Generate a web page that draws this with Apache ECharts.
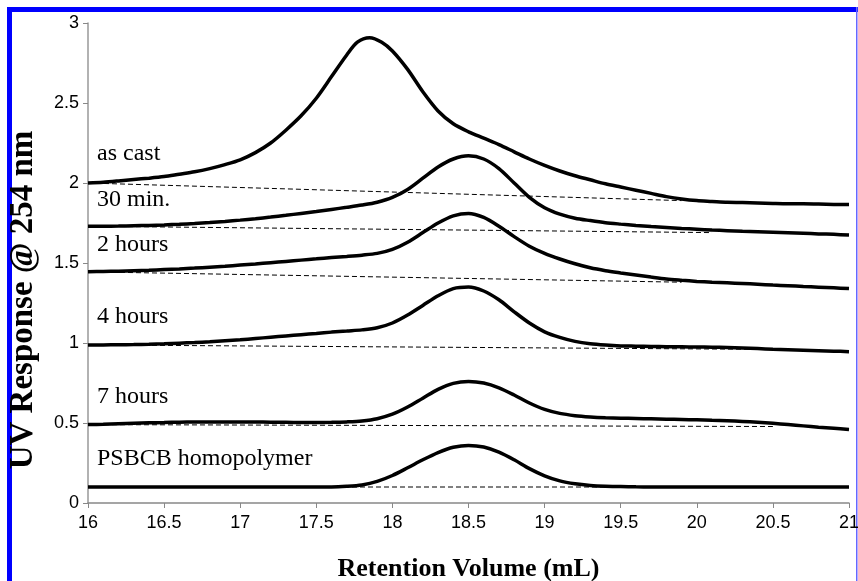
<!DOCTYPE html>
<html>
<head>
    <meta charset="UTF-8">
    <title>UV Response</title>
    <script src="https://cdn.jsdelivr.net/npm/echarts@6/dist/echarts.min.js"></script>
    <style>
        body { margin: 0; background: #fff; }
        #main { width: 858px; height: 581px; }
    </style>
</head>
<body>
<div id="main"></div>
<script type="text/javascript">
    // retention volume (mL), shared by the later curves
    var xs = [16.0, 16.1, 16.2, 16.3, 16.4, 16.5, 16.6, 16.7, 16.8, 16.9,
              17.0, 17.1, 17.2, 17.3, 17.4, 17.5, 17.6, 17.7, 17.8, 17.9,
              18.0, 18.1, 18.2, 18.3, 18.4, 18.5, 18.6, 18.7, 18.8, 18.9,
              19.0, 19.1, 19.2, 19.3, 19.4, 19.5, 19.6, 19.7, 19.8, 19.9,
              20.0, 20.1, 20.2, 20.3, 20.4, 20.5, 20.6, 20.7, 20.8, 20.9, 21.0];

    // as cast peaks between grid points, so it has its own x list
    var asCastX = [16.0, 16.1, 16.2, 16.3, 16.4, 16.5, 16.6, 16.7, 16.8, 16.9,
                   17.0, 17.1, 17.2, 17.3, 17.4, 17.5, 17.6, 17.7, 17.77, 17.85, 17.93,
                   18.0, 18.1, 18.2, 18.3, 18.4, 18.5, 18.6, 18.7, 18.8, 18.9,
                   19.0, 19.1, 19.2, 19.3, 19.4, 19.5, 19.6, 19.7, 19.8, 19.9,
                   20.0, 20.1, 20.2, 20.3, 20.4, 20.5, 20.6, 20.7, 20.8, 20.9, 21.0];
    var asCast = [2.00, 2.005, 2.013, 2.022, 2.03, 2.04, 2.055, 2.07, 2.09, 2.115,
                  2.145, 2.19, 2.25, 2.33, 2.42, 2.53, 2.665, 2.80, 2.88, 2.908, 2.88,
                  2.825, 2.71, 2.57, 2.45, 2.37, 2.32, 2.28, 2.24, 2.195, 2.15,
                  2.11, 2.075, 2.045, 2.02, 1.995, 1.975, 1.955, 1.935, 1.915, 1.90,
                  1.89, 1.885, 1.88, 1.878, 1.875, 1.872, 1.87, 1.87, 1.868, 1.866, 1.865];
    var min30 = [1.73, 1.73, 1.731, 1.733, 1.735, 1.738, 1.742, 1.747, 1.753, 1.76,
                 1.768, 1.777, 1.787, 1.798, 1.81, 1.822, 1.835, 1.848, 1.862, 1.88,
                 1.91, 1.96, 2.03, 2.10, 2.15, 2.17, 2.15, 2.09, 2.00, 1.91,
                 1.845, 1.805, 1.78, 1.765, 1.752, 1.743, 1.735, 1.728, 1.722, 1.716,
                 1.711, 1.706, 1.702, 1.698, 1.695, 1.692, 1.689, 1.686, 1.682, 1.679, 1.675];
    var hours2 = [1.445, 1.447, 1.449, 1.452, 1.455, 1.459, 1.463, 1.468, 1.474, 1.48,
                  1.487, 1.494, 1.502, 1.51, 1.518, 1.526, 1.534, 1.541, 1.549, 1.56,
                  1.585, 1.63, 1.69, 1.75, 1.795, 1.81, 1.785, 1.73, 1.665, 1.605,
                  1.56, 1.525, 1.495, 1.47, 1.452, 1.438, 1.425, 1.412, 1.40, 1.392,
                  1.385, 1.38, 1.376, 1.372, 1.367, 1.362, 1.358, 1.353, 1.349, 1.345, 1.34];
    var hours4 = [0.988, 0.988, 0.989, 0.99, 0.992, 0.995, 0.999, 1.003, 1.008, 1.014,
                  1.02, 1.028, 1.036, 1.044, 1.052, 1.06, 1.068, 1.075, 1.082, 1.095,
                  1.125, 1.175, 1.235, 1.295, 1.34, 1.35, 1.325, 1.27, 1.195, 1.125,
                  1.07, 1.035, 1.01, 0.995, 0.987, 0.982, 0.98, 0.978, 0.977, 0.976,
                  0.975, 0.974, 0.972, 0.969, 0.965, 0.961, 0.958, 0.955, 0.952, 0.949, 0.946];
    var hours7 = [0.49, 0.492, 0.495, 0.498, 0.501, 0.503, 0.505, 0.506, 0.507, 0.507,
                  0.507, 0.506, 0.505, 0.504, 0.503, 0.503, 0.504, 0.507, 0.513, 0.527,
                  0.555, 0.60, 0.655, 0.71, 0.748, 0.76, 0.75, 0.72, 0.675, 0.625,
                  0.585, 0.56, 0.546, 0.538, 0.533, 0.53, 0.528, 0.526, 0.524, 0.522,
                  0.52, 0.517, 0.514, 0.51, 0.505, 0.498, 0.49, 0.482, 0.474, 0.467, 0.46];
    var homo = [0.10, 0.10, 0.10, 0.10, 0.10, 0.10, 0.10, 0.10, 0.10, 0.10,
                0.10, 0.10, 0.10, 0.10, 0.10, 0.10, 0.10, 0.104, 0.113, 0.135,
                0.172, 0.22, 0.27, 0.315, 0.348, 0.36, 0.35, 0.318, 0.27, 0.215,
                0.17, 0.138, 0.12, 0.11, 0.105, 0.103, 0.101, 0.10, 0.10, 0.10,
                0.10, 0.10, 0.10, 0.10, 0.10, 0.10, 0.10, 0.10, 0.10, 0.10, 0.10];

    var names = ['as cast', '30 min.', '2 hours', '4 hours', '7 hours', 'PSBCB homopolymer'];
    // dashed baselines: start x, start y, end x, end y
    var baseX0 = [16, 16, 16, 16, 16, 16];
    var baseY0 = [2.0, 1.73, 1.445, 0.988, 0.49, 0.10];
    var baseX1 = [19.9, 20.1, 19.9, 20.5, 20.5, 21];
    var baseY1 = [1.89, 1.69, 1.38, 0.96, 0.478, 0.10];

    var xTicks = ['16', '16.5', '17', '17.5', '18', '18.5', '19', '19.5', '20', '20.5', '21'];

    var curves = [asCast, min30, hours2, hours4, hours7, homo];
    var curveX = [asCastX, xs, xs, xs, xs, xs];
    var labelTop = [157, 203, 248, 320, 400, 462];

    var series = [];
    // 虚线基线
    for (var i = 0; i < curves.length; i++) {
        series.push({
            name: names[i] + ' base',
            type: 'line',
            data: [[baseX0[i], baseY0[i]], [baseX1[i], baseY1[i]]],
            symbol: 'none',
            z: 1,
            lineStyle: { color: '#000', width: 1, type: [5, 3] }
        });
    }
    // 曲线
    for (var i = 0; i < curves.length; i++) {
        var pts = [];
        for (var j = 0; j < curveX[i].length; j++) pts.push([curveX[i][j], curves[i][j]]);
        series.push({
            name: names[i],
            type: 'line',
            data: pts,
            symbol: 'none',
            smooth: 0.3,
            z: 3,
            lineStyle: { color: '#000', width: 3.5 }
        });
    }

    var graphics = [
        { type: 'rect', shape: { x: 7, y: 7, width: 5, height: 574 }, style: { fill: '#0000ff' } },
        { type: 'rect', shape: { x: 7, y: 7, width: 851, height: 5 }, style: { fill: '#0000ff' } },
        { type: 'rect', shape: { x: 856, y: 7, width: 1.5, height: 574 }, style: { fill: '#6666ff' } },
        // y轴标题
        {
            type: 'text', x: 23, y: 300, rotation: Math.PI / 2,
            style: {
                text: 'UV Response @ 254 nm', fill: '#000', align: 'center', verticalAlign: 'middle',
                font: 'bold 33px "Liberation Serif"'
            }
        }
    ];
    for (var i = 0; i < names.length; i++) {
        graphics.push({
            type: 'text', left: 97, top: labelTop[i] - 15,
            style: { text: names[i], fill: '#000', font: '24px "Liberation Serif"' }
        });
    }

    var myChart = echarts.init(document.getElementById('main'));
    var option = {
        animation: false,
        backgroundColor: '#fff',
        grid: { left: 88, right: 9, top: 23, bottom: 78, outerBoundsMode: 'none', containLabel: false },
        xAxis: {
            type: 'value', min: 16, max: 21, interval: 0.5,
            name: 'Retention Volume (mL)', nameLocation: 'middle', nameGap: 53,
            nameTextStyle: { fontFamily: 'Liberation Serif', fontWeight: 'bold', fontSize: 26, color: '#000' },
            axisLine: { lineStyle: { color: '#888', width: 1.5 } },
            axisTick: { lineStyle: { color: '#888' }, length: 5 },
            axisLabel: {
                color: '#000', fontFamily: 'Liberation Sans', fontSize: 18, margin: 11,
                formatter: function (v) { return xTicks[Math.round((v - 16) * 2)]; }
            },
            splitLine: { show: false }
        },
        yAxis: {
            type: 'value', min: 0, max: 3, interval: 0.5,
            axisLine: { show: true, lineStyle: { color: '#999', width: 1.5 } },
            axisTick: { show: true, lineStyle: { color: '#888' }, length: 5 },
            axisLabel: { color: '#000', fontFamily: 'Liberation Sans', fontSize: 18, margin: 9 },
            splitLine: { show: false }
        },
        graphic: graphics,
        series: series
    };
    myChart.setOption(option);
</script>
</body>
</html>
